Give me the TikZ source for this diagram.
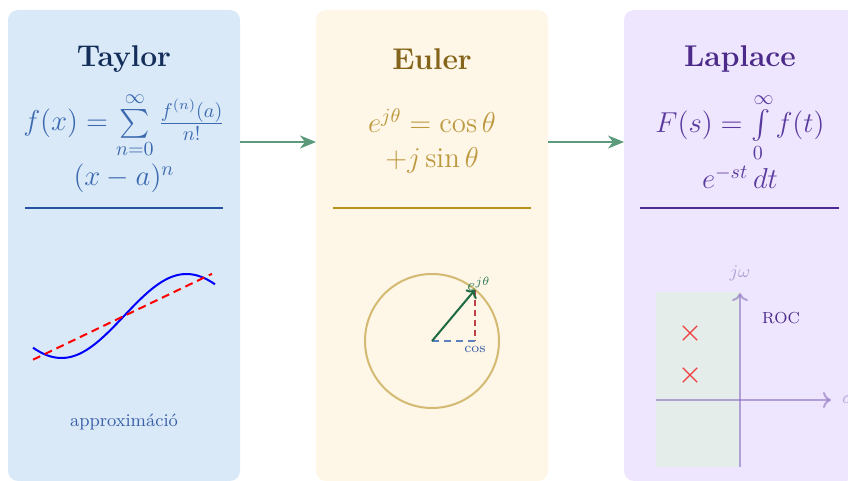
\documentclass[tikz,border=0pt]{standalone}
\usepackage{amsmath}
\usepackage{fontspec}
\usetikzlibrary{arrows.meta,shapes.misc}
\definecolor{tbg}{HTML}{DAE9F8}
\definecolor{ttitle}{HTML}{142E5A}
\definecolor{tform}{HTML}{3C6AB0}
\definecolor{tline}{HTML}{2454A2}
\definecolor{ebg}{HTML}{FEF6E6}
\definecolor{etitle}{HTML}{84631A}
\definecolor{eform}{HTML}{BC983E}
\definecolor{eline}{HTML}{B8901E}
\definecolor{ecirc}{HTML}{D4BA72}
\definecolor{evec}{HTML}{1E6A42}
\definecolor{elab}{HTML}{2F7A5A}
\definecolor{ered}{HTML}{C0404A}
\definecolor{eblue}{HTML}{5B80C0}
\definecolor{ecos}{HTML}{3A60A8}
\definecolor{lbg}{HTML}{EEE6FE}
\definecolor{ltitle}{HTML}{4B2A8A}
\definecolor{lform}{HTML}{5A3A9E}
\definecolor{lline}{HTML}{4E2A90}
\definecolor{lroc}{HTML}{E4EDEA}
\definecolor{laxis}{HTML}{8A70C0}
\definecolor{llab}{HTML}{B0A2D2}
\definecolor{lx}{HTML}{F03C3C}
\definecolor{conncol}{HTML}{5B9B7B}
\begin{document}
\begin{tikzpicture}[x=0.5pt,y=-0.5pt,
  panel/.style={rectangle, rounded corners=5pt, minimum width=116pt, minimum height=235.5pt, inner sep=0pt, outer sep=0pt, draw=none},
  ptitle/.style={anchor=base, font=\fontsize{15}{18}\selectfont\bfseries, inner sep=0pt},
  pform/.style={anchor=base, font=\fontsize{14.4}{17}\selectfont, inner sep=0pt},
  conn/.style={draw=conncol, line width=1pt, -{Stealth[length=8pt, width=6.5pt, inset=2.5pt]}},
  divider/.style={line width=1pt},
  axis/.style={draw=laxis, draw opacity=0.6, line width=1pt, -{To[length=4pt, width=8pt]}},
  pole/.style={cross out, draw=lx, line width=0.7pt, minimum size=6.5pt, inner sep=0pt}
]
\useasboundingbox (0,0) rectangle (848,481);

% panels
\node[panel, fill=tbg] (taylor) at (124,245.5) {};
\node[panel, fill=ebg] (euler) at (432,245.5) {};
\node[panel, fill=lbg] (laplace) at (740,245.5) {};

% connectors
\coordinate (ay) at (0,142);
\draw[conn] (taylor.east |- ay) -- (euler.west |- ay);
\draw[conn] (euler.east |- ay) -- (laplace.west |- ay);

% Taylor
\node[ptitle, text=ttitle] (ttl) at (124,67) {Taylor};
\node[pform, text=tform] (tf1) at (124,131) {$f(x) = \sum\limits_{n=0}^{\infty} \frac{f^{(n)}(a)}{n!}$};
\node[pform, text=tform] (tf2) at (124,186) {$(x-a)^n$};
\draw[divider, draw=tline] (25,208) -- (223,208);
\draw[blue, line width=1pt] plot[domain=33:215, samples=80, variable=\t] (\t, {316-42*sin((\t-124)*1.44)});
\draw[red, line width=1pt, dash pattern=on 4pt off 2.5pt] (33,359.7) -- (212,273.8);
\node[font=\small\addfontfeature{LetterSpace=4}, text=ecos, anchor=base] (tapp) at (124,427) {approximáció};

% Euler
\node[ptitle, text=etitle] (etl) at (432,70) {Euler};
\node[pform, text=eform] (ef1) at (432,133) {$e^{j\theta} = \cos\theta$};
\node[pform, text=eform] (ef2) at (432,168) {$+j\sin\theta$};
\draw[divider, draw=eline] (333,208) -- (531,208);
\node[circle, draw=ecirc, line width=1pt, minimum size=67pt, inner sep=0pt, outer sep=0pt] (circ) at (432,341) {};
\coordinate (tip) at (circ.50);
\coordinate (foot) at (tip |- circ.center);
\draw[ered, line width=0.6pt, dash pattern=on 3pt off 2pt] (tip) -- (foot);
\draw[eblue, line width=0.9pt, dash pattern=on 3.5pt off 2.5pt] (circ.center) -- (foot);
\draw[evec, line width=1pt, -{To[length=3.5pt, width=7pt]}] (circ.center) -- (tip);
\node[font=\footnotesize, text=elab, anchor=base west, inner sep=0pt] (elabel) at (467,291) {$e^{j\theta}$};
\node[font=\scriptsize\addfontfeature{LetterSpace=6}, text=ecos, anchor=north, inner sep=0pt] (coslab) at ([yshift=-2.5pt]foot) {cos};

% Laplace
\node[ptitle, text=ltitle] (ltl) at (740,67) {Laplace};
\node[pform, text=lform] (lf1) at (740,133) {$F(s) = \int\limits_{0}^{\infty} f(t)$};
\node[pform, text=lform] (lf2) at (740,189) {$e^{-st}\,dt$};
\draw[divider, draw=lline] (640,208) -- (839,208);
\fill[lroc] (656,292) rectangle (740,467);
\coordinate (xs) at (656,400);
\coordinate (xe) at (831,400);
\coordinate (yb) at (740,467);
\coordinate (yt) at (740,293);
\draw[axis] (xs) -- (xe);
\draw[axis] (yb) -- (yt);
\node[font=\small, text=llab, anchor=base, inner sep=0pt] (jw) at ([yshift=7.5pt]yt) {$j\omega$};
\node[font=\small, text=llab, anchor=west, inner sep=0pt] (sig) at ([xshift=5.5pt]xe) {$\sigma$};
\node[font=\footnotesize\addfontfeature{LetterSpace=5}, text=ltitle] (roc) at (781,318) {ROC};
\node[pole] (p1) at (690,333) {};
\node[pole] (p2) at (690,375) {};
\end{tikzpicture}
\end{document}
